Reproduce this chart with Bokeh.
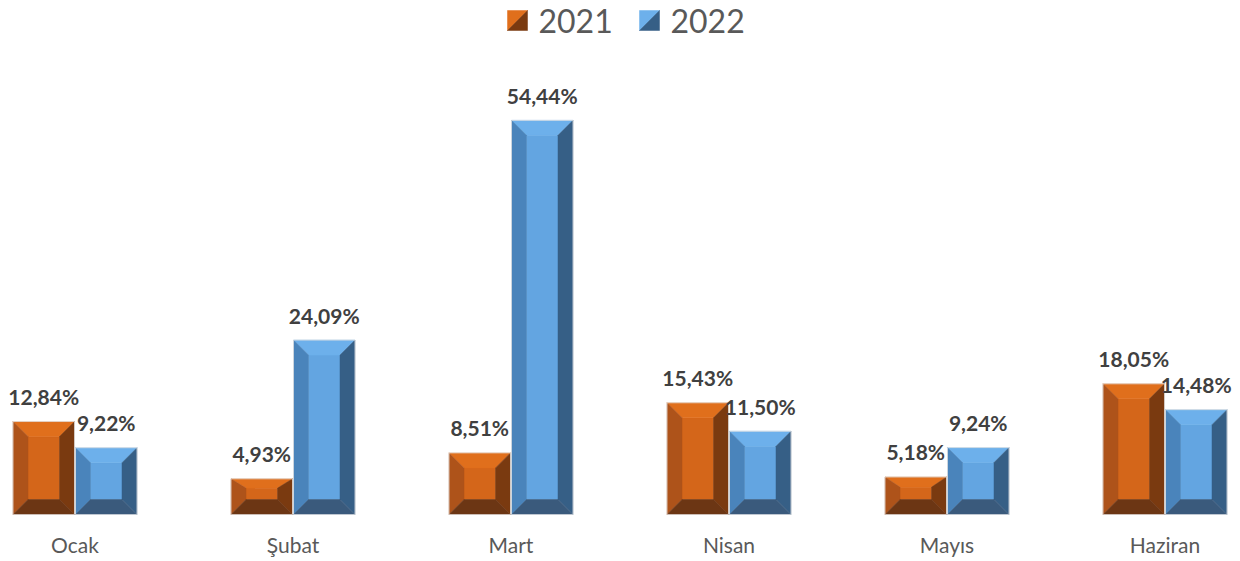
from bokeh.plotting import figure
from bokeh.models import Range1d, LinearAxis, FixedTicker, ColumnDataSource
from bokeh.core.properties import value
from bokeh.embed import file_html
from bokeh.resources import INLINE

months = ["Ocak", "Şubat", "Mart", "Nisan", "Mayıs", "Haziran"]
v2021 = [12.84, 4.93, 8.51, 15.43, 5.18, 18.05]
v2022 = [9.22, 24.09, 54.44, 11.50, 9.24, 14.48]
labels2021 = ["12,84%", "4,93%", "8,51%", "15,43%", "5,18%", "18,05%"]
labels2022 = ["9,22%", "24,09%", "54,44%", "11,50%", "9,24%", "14,48%"]
series = ["2021", "2022"]

# bevel palettes: face, top, left, right, bottom
pal = {
    "2021": ["#D4661A", "#E06F1C", "#AE531A", "#7A3A10", "#6C3614"],
    "2022": ["#63A5E1", "#6DB0EB", "#4A84BB", "#365F86", "#3A5A7C"],
}

W, H = 1240, 561
MB = 47
PX_X = 218.0          # px per category unit
PX_Y = 7.24           # px per percent
x0 = 0.5 - 74.5 / PX_X
x1 = x0 + W / PX_X
y1 = (H - MB) / PX_Y

p = figure(width=W, height=H, output_backend="svg", toolbar_location=None,
           x_axis_location=None, y_axis_location=None,
           min_border_left=0, min_border_right=0, min_border_top=0, min_border_bottom=MB)
p.x_range = Range1d(x0, x1)
p.y_range = Range1d(0, y1)
p.xgrid.visible = False
p.ygrid.visible = False
p.outline_line_color = None
p.background_fill_color = "white"

def dx(px):
    return px / PX_X

def dy(px):
    return px / PX_Y

BW = 62 / PX_X
xs, ys, cols = [], [], []
ox, oy = [], []
lx, ly, lt = [], [], []
for i in range(len(months)):
    c = i + 0.5
    for s, vals, labs in (("2021", v2021, labels2021), ("2022", v2022, labels2022)):
        a = c - BW if s == "2021" else c + dx(0.5)
        b = c - dx(0.5) if s == "2021" else c + BW
        h = vals[i]
        hp = h * PX_Y
        ib = min(15.0, hp * 0.45)
        it = min(15.0, max(0.0, (hp - ib) * 0.45))
        ix = dx(15)
        A, B, C, D = (a, 0), (b, 0), (b, h), (a, h)
        ia, ib_, ic, id_ = (a + ix, dy(ib)), (b - ix, dy(ib)), (b - ix, h - dy(it)), (a + ix, h - dy(it))
        polys = [
            ([ia, ib_, ic, id_], pal[s][0]),
            ([D, C, ic, id_], pal[s][1]),
            ([A, D, id_, ia], pal[s][2]),
            ([B, C, ic, ib_], pal[s][3]),
            ([A, B, ib_, ia], pal[s][4]),
        ]
        for pts, col in polys:
            xs.append([q[0] for q in pts])
            ys.append([q[1] for q in pts])
            cols.append(col)
        ox.append([a, b, b, a])
        oy.append([0, 0, h, h])
        lx.append((a + b) / 2)
        ly.append(h + dy(25))
        lt.append(labs[i])

p.patches(xs="xs", ys="ys", fill_color="cols", line_color="cols", line_width=0.5,
          source=ColumnDataSource(dict(xs=xs, ys=ys, cols=cols)))
p.patches(ox, oy, fill_color=None, line_color="#E2E2E2", line_width=0.8)

p.text(x="x", y="y", text="t", source=ColumnDataSource(dict(x=lx, y=ly, t=lt)),
       text_font=value("Lato"), text_font_style="bold", text_font_size="21px",
       text_color="#404040", text_align="center", text_baseline="alphabetic")

# legend (bevel squares split on the diagonal)
def page_x(px):
    return x0 + px / PX_X

def page_y(py):
    return (H - MB - py) / PX_Y

leg = [("2021", 507, 538), ("2022", 639, 670)]
for s, sq, tx in leg:
    L, R = page_x(sq), page_x(sq + 20)
    T, Bt = page_y(10), page_y(30)
    p.patch([L, R, L], [T, T, Bt], fill_color=pal[s][1], line_color=pal[s][1], line_width=0.5)
    p.patch([R, R, L], [T, Bt, Bt], fill_color=pal[s][3], line_color=pal[s][3], line_width=0.5)
    p.text(x=[page_x(tx)], y=[page_y(20)], text=[s], text_font=value("Lato"),
           text_font_size="32px", text_color="#595959", text_align="left",
           text_baseline="middle")

ax = LinearAxis(ticker=FixedTicker(ticks=[i + 0.5 for i in range(len(months))]),
                major_label_overrides={i + 0.5: m for i, m in enumerate(months)})
ax.axis_line_color = None
ax.major_tick_line_color = None
ax.minor_tick_line_color = None
ax.major_tick_out = 0
ax.major_tick_in = 0
ax.minor_tick_out = 0
ax.major_label_text_font = "Lato"
ax.major_label_text_font_size = "21px"
ax.major_label_text_color = "#595959"
ax.major_label_standoff = 17
p.add_layout(ax, "below")

open("out.html", "w").write(file_html(p, INLINE))
